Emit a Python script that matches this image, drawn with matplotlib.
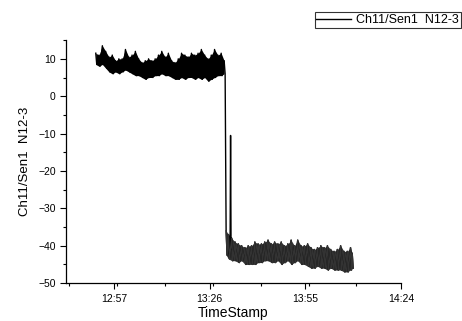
import matplotlib
matplotlib.use("Agg")
import matplotlib.pyplot as plt
import numpy as np
from matplotlib.ticker import MultipleLocator, FuncFormatter

plt.rcParams['font.family'] = ['Liberation Sans', 'DejaVu Sans']

# time in minutes after 12:00, band read as (high, low) envelope of the noisy trace
t_before = [51.5, 52.5, 53.5, 54.5, 55.5, 56.5, 57.5, 58.5, 59.5, 60.5,
            61.5, 62.5, 63.5, 64.5, 65.5, 66.5, 67.5, 68.5, 69.5, 70.5,
            71.5, 72.5, 73.5, 74.5, 75.5, 76.5, 77.5, 78.5, 79.5, 80.5,
            81.5, 82.5, 83.5, 84.5, 85.5, 86.5, 87.5, 88.5, 89.5, 90.4]
hi_before = [11.5, 11, 13.5, 12, 10.5, 11, 9.5, 10, 10, 12.5,
             10.5, 11, 12, 10, 9, 9.5, 10, 9.5, 10, 11,
             12, 10.5, 11.5, 9.5, 9, 10, 11.5, 11, 10.5, 11.5,
             11, 11.5, 12.5, 11, 10, 11, 12.5, 11, 11.5, 9.5]
lo_before = [8.5, 8, 8.5, 7.5, 6.5, 6, 6.5, 6, 6.5, 7,
             6.5, 6, 5.5, 5.5, 5, 4.5, 5, 5, 5.5, 5.5,
             6, 5.5, 5.5, 5, 4.5, 4.5, 5, 4.5, 5, 5,
             4.5, 5, 4.5, 5, 4, 4.5, 5, 5.5, 5.5, 6]

t_after = [91.0, 91.7, 92.7, 93.7, 94.7, 95.7, 96.7, 97.7, 98.7, 99.7,
           100.7, 101.7, 102.7, 103.7, 104.7, 105.7, 106.7, 107.7, 108.7, 109.7,
           110.7, 111.7, 112.7, 113.7, 114.7, 115.7, 116.7, 117.7, 118.7, 119.7,
           120.7, 121.7, 122.7, 123.7, 124.7, 125.7, 126.7, 127.7, 128.7, 129.2]
hi_after = [-36, -37, -38, -39, -39.5, -40, -40.5, -40, -40, -39,
            -39.5, -39.5, -39, -38.5, -39.5, -39, -39.5, -39, -40, -39.5,
            -38.5, -40, -38.5, -40, -40, -39.5, -40.5, -41, -40.5, -40,
            -40.5, -40, -41, -41.5, -41, -40, -41.5, -41.5, -40.5, -42]
lo_after = [-42.5, -43.5, -44, -44, -44.5, -44, -45, -45, -45, -45,
            -44.5, -44.5, -44, -44, -44.5, -44.5, -44, -45, -44.5, -44,
            -45, -44.5, -44, -45, -45, -45.5, -46, -46, -45.5, -46,
            -46, -46.5, -46, -46.5, -46.5, -46.5, -47, -47, -46.5, -46]

spike_t = [92.2, 92.35, 92.5]
spike_v = [-41, -10.5, -41]

label = "Ch11/Sen1  N12-3"


def zigzag(t, hi, lo):
    xs, ys = [], []
    for i in range(len(t)):
        xs += [t[i], t[i] + 0.3]
        ys += [hi[i], lo[i]]
    return xs, ys


fig = plt.figure(figsize=(4.62, 3.21), dpi=100)
ax = fig.add_axes([0.143, 0.118, 0.725, 0.757])

x1, y1 = zigzag(t_before, hi_before, lo_before)
x2, y2 = zigzag(t_after, hi_after, lo_after)
ax.fill_between(t_before, lo_before, hi_before, color='black', lw=0)
ax.fill_between(t_after, lo_after, hi_after, color='#333333', lw=0)
ax.plot(x1 + x2[:2] + spike_t + x2[2:], y1 + y2[:2] + spike_v + y2[2:],
        color='black', lw=1.0, label=label)
ax.plot(x2, y2, color='#333333', lw=1.0)

ax.set_xlim(42.5, 144)
ax.set_ylim(-50, 15)
ax.xaxis.set_minor_locator(MultipleLocator(14.5))
ax.set_xticks([57, 86, 115, 144])
ax.xaxis.set_major_formatter(FuncFormatter(lambda v, p: "%d:%02d" % (12 + int(v) // 60, int(v) % 60)))
ax.yaxis.set_major_locator(MultipleLocator(10))
ax.yaxis.set_minor_locator(MultipleLocator(5))
ax.tick_params(which='both', direction='out', labelsize=7.5, width=0.8)
ax.tick_params(which='major', length=4)
ax.tick_params(which='minor', length=2.5)

for s in ['top', 'right']:
    ax.spines[s].set_visible(False)
for s in ['left', 'bottom']:
    ax.spines[s].set_linewidth(0.9)

ax.set_xlabel("TimeStamp", fontsize=10, labelpad=2)
ax.set_ylabel(label, fontsize=9.5, labelpad=5)

leg = fig.legend(loc='upper right', bbox_to_anchor=(0.998, 0.962), fontsize=9,
                 frameon=True, fancybox=False, edgecolor='black', handlelength=2.8,
                 borderpad=0.15, handletextpad=0.4, borderaxespad=0)
leg.get_frame().set_linewidth(0.8)

fig.savefig("out.png", dpi=100)
